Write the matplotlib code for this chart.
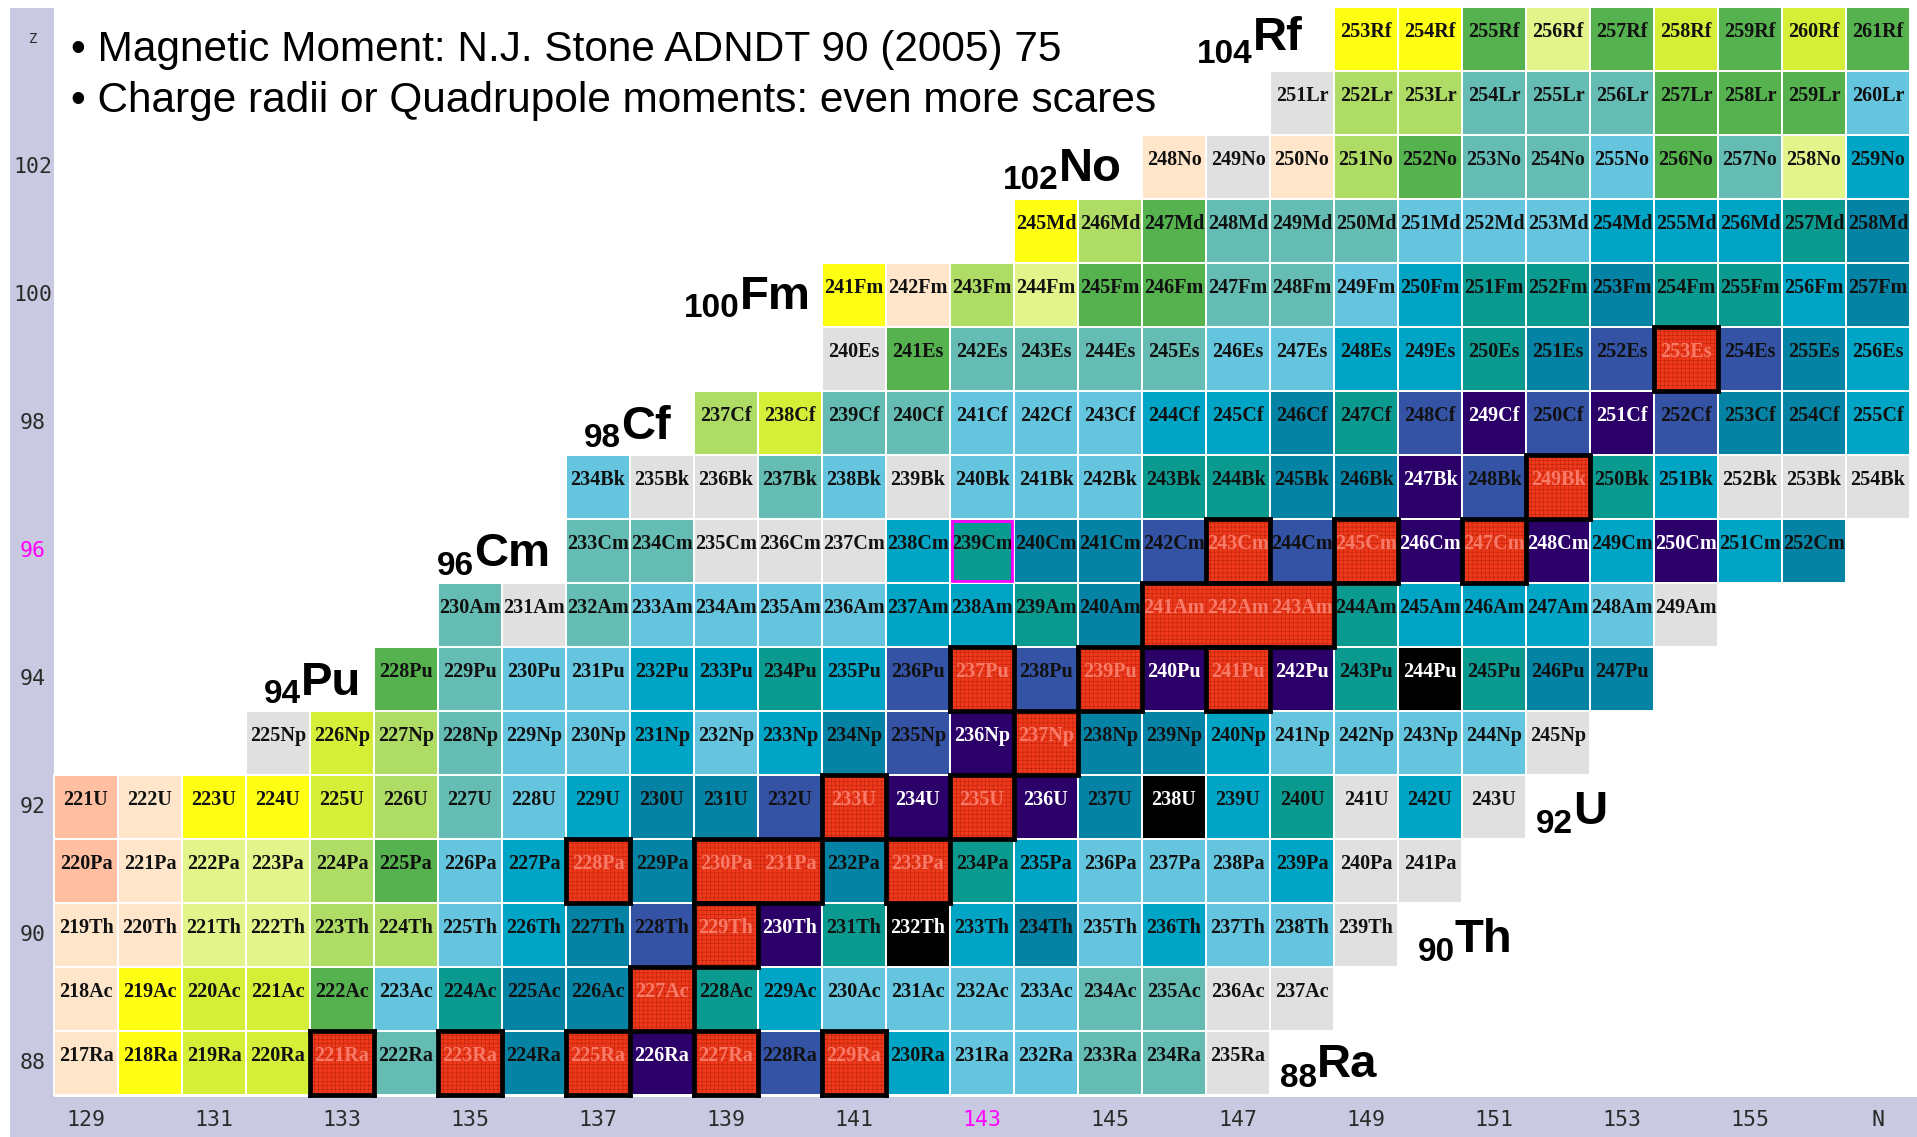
import matplotlib
matplotlib.use("Agg")
import matplotlib.pyplot as plt
from matplotlib.patches import Rectangle

# ---------------- data ----------------
z_values = [88, 89, 90, 91, 92, 93, 94, 95, 96, 97, 98, 99, 100, 101, 102, 103, 104]
symbols = ["Ra", "Ac", "Th", "Pa", "U", "Np", "Pu", "Am", "Cm", "Bk", "Cf", "Es",
           "Fm", "Md", "No", "Lr", "Rf"]
first_n = [129, 129, 129, 129, 129, 132, 134, 135, 137, 137, 139, 141, 141, 144, 146, 148, 149]
# one code per nuclide (N increasing) - colour category
status_codes = [
    "pYCCRtRSRIRBRcssttw",        # Ra 217-235
    "pYCCGsTSSRTcssssttww",       # Ac 218-237
    "ppyyggscSBRITKcSscssw",      # Th 219-239
    "PpyygGscRSRRSRTcssscww",     # Pa 220-241
    "PpYYCgtscSSBRIRISKcTwcw",    # U 221-243
    "wCgtsscscSBIRSScssssw",      # Np 225-245
    "GtssccTcBRBRIRITKTSS",       # Pu 228-247
    "twtssssccTSRRRTcccsw",       # Am 230-249
    "ttwwwcTSSBRBRIRIcIcS",       # Cm 233-252
    "swwtswsssTTSSIBRTcwww",      # Bk 234-254
    "gCttsssccSTBIBIBSSc",        # Cf 237-255
    "wGttttssccTSBRBSc",          # Es 240-256
    "YpgyGGttscTTSTTcS",          # Fm 241-257
    "YgGtttssscccTS",             # Md 245-258
    "pwpgGttsGtyc",               # No 248-259
    "wggtttGGGs",                 # Lr 251-260
    "YYGyGCGCG",                  # Rf 253-261
]
magenta_cell = (143, 96)
x_ticks = [129, 131, 133, 135, 137, 139, 141, 143, 145, 147, 149, 151, 153, 155, 157]
x_tick_labels = ["129", "131", "133", "135", "137", "139", "141", "143", "145", "147",
                 "149", "151", "153", "155", "N"]
y_ticks = [88, 90, 92, 94, 96, 98, 100, 102, 104]
y_tick_labels = ["88", "90", "92", "94", "96", "98", "100", "102", "Z"]
highlight_x = 143
highlight_y = 96
element_z = [104, 102, 100, 98, 96, 94, 92, 90, 88]
element_sym = ["Rf", "No", "Fm", "Cf", "Cm", "Pu", "U", "Th", "Ra"]
header_lines = ["\u2022 Magnetic Moment: N.J. Stone ADNDT 90 (2005) 75",
                "\u2022 Charge radii or Quadrupole moments: even more scares"]

# ---------------- styles ----------------
palette = {
    "P": "#FFBFA0", "p": "#FFE6CA", "Y": "#FFFF14", "C": "#D5EE38", "y": "#E3F48A",
    "g": "#AFDC64", "G": "#55B24F", "t": "#64BCB2", "s": "#65C5DE", "c": "#00A5C6",
    "T": "#0A9A90", "S": "#0583A5", "B": "#3553A5", "I": "#2B0068", "K": "#000000",
    "w": "#E0E0E0", "R": "#EE3A1A",
}
white_text = {"I", "K"}
# (junction x, big-symbol baseline drop, subscript baseline drop)
label_anchor = {"Rf": (147.23, 0.17, 0.375), "No": (144.20, 0.22, 0.34),
                "Fm": (139.22, 0.22, 0.34), "Cf": (137.36, 0.25, 0.37),
                "Cm": (135.06, 0.24, 0.37), "Pu": (132.36, 0.25, 0.38),
                "U": (152.23, 0.27, 0.40), "Th": (150.39, 0.27, 0.40),
                "Ra": (148.23, 0.22, 0.37)}

plt.rcParams["hatch.linewidth"] = 0.35
fig = plt.figure(figsize=(19.17, 11.37), dpi=100)
ax = fig.add_axes([0, 0, 1, 1])
x0 = 128.5 - 54 / 64
y1 = 87.5 + 1095 / 64
ax.set_xlim(x0, x0 + 1917 / 64)
ax.set_ylim(y1 - 1137 / 64, y1)
ax.axis("off")

lav = "#C9C9E1"
# left and bottom strips
ax.add_patch(Rectangle((128.5 - 44 / 64, y1 - 1137 / 64), 44 / 64, 1137 / 64 - 8 / 64,
                       fc=lav, ec="none", zorder=0))
ax.add_patch(Rectangle((128.5 - 44 / 64, y1 - 1137 / 64), 40, 40 / 64,
                       fc=lav, ec="none", zorder=0))

red_cells = set()
for z, sym, n0, codes in zip(z_values, symbols, first_n, status_codes):
    for i, code in enumerate(codes):
        if code == "R":
            red_cells.add((n0 + i, z))

for z, sym, n0, codes in zip(z_values, symbols, first_n, status_codes):
    for i, code in enumerate(codes):
        n = n0 + i
        a = z + n
        if code == "R":
            ax.add_patch(Rectangle((n - 0.5, z - 0.5), 1, 1, fc=palette[code],
                                   ec="#B8200C", lw=0, hatch="++++", zorder=2))
            tc = "#F87A68"
        else:
            ax.add_patch(Rectangle((n - 0.5, z - 0.5), 1, 1, fc=palette[code],
                                   ec="white", lw=1.4, zorder=1))
            tc = "white" if code in white_text else "#111111"
        ax.text(n, z + 0.03, f"{a}{sym}", ha="center", va="baseline", fontsize=14.5,
                fontweight="bold", family="Liberation Serif", color=tc, zorder=4)

# black outlines around measured (red) cells
for (n, z) in red_cells:
    segs = [((n - 0.5, n + 0.5), (z + 0.5, z + 0.5)),
            ((n - 0.5, n + 0.5), (z - 0.5, z - 0.5))]
    if (n - 1, z) not in red_cells:
        segs.append(((n - 0.5, n - 0.5), (z - 0.5, z + 0.5)))
    if (n + 1, z) not in red_cells:
        segs.append(((n + 0.5, n + 0.5), (z - 0.5, z + 0.5)))
    for xs, ys in segs:
        ax.plot(xs, ys, color="black", lw=3.4, solid_capstyle="projecting", zorder=5)

mn, mz = magenta_cell
ax.add_patch(Rectangle((mn - 0.47, mz - 0.47), 0.94, 0.94, fc="none",
                       ec="#FF00FF", lw=2.0, zorder=6))

# tick labels
for v, lab in zip(y_ticks, y_tick_labels):
    ax.text(128.5 - 21 / 64, v, lab, ha="center", va="center",
            fontsize=10 if lab == "Z" else 15.5, family="DejaVu Sans Mono",
            color="#FF00FF" if v == highlight_y else "#2A2A2A")
for v, lab in zip(x_ticks, x_tick_labels):
    ax.text(v, 87.5 - 25 / 64, lab, ha="center", va="center", fontsize=15.5,
            family="DejaVu Sans Mono",
            color="#FF00FF" if v == highlight_x else "#2A2A2A")

# element labels
for z, sym in zip(element_z, element_sym):
    xa, dbig, dsub = label_anchor[sym]
    ax.text(xa, z - dbig, sym, ha="left", va="baseline", fontsize=34,
            fontweight="bold", family="Liberation Sans", zorder=7)
    ax.text(xa, z - dsub, str(z), ha="right", va="baseline", fontsize=24,
            fontweight="bold", family="Liberation Sans", zorder=7)

# header text
ax.text(128.77, 87.5 + (1095 - 61) / 64, header_lines[0], ha="left", va="baseline",
        fontsize=30.5, family="Liberation Sans", zorder=7)
ax.text(128.77, 87.5 + (1095 - 112) / 64, header_lines[1], ha="left", va="baseline",
        fontsize=30.5, family="Liberation Sans", zorder=7)

fig.savefig("out.png", dpi=100)
